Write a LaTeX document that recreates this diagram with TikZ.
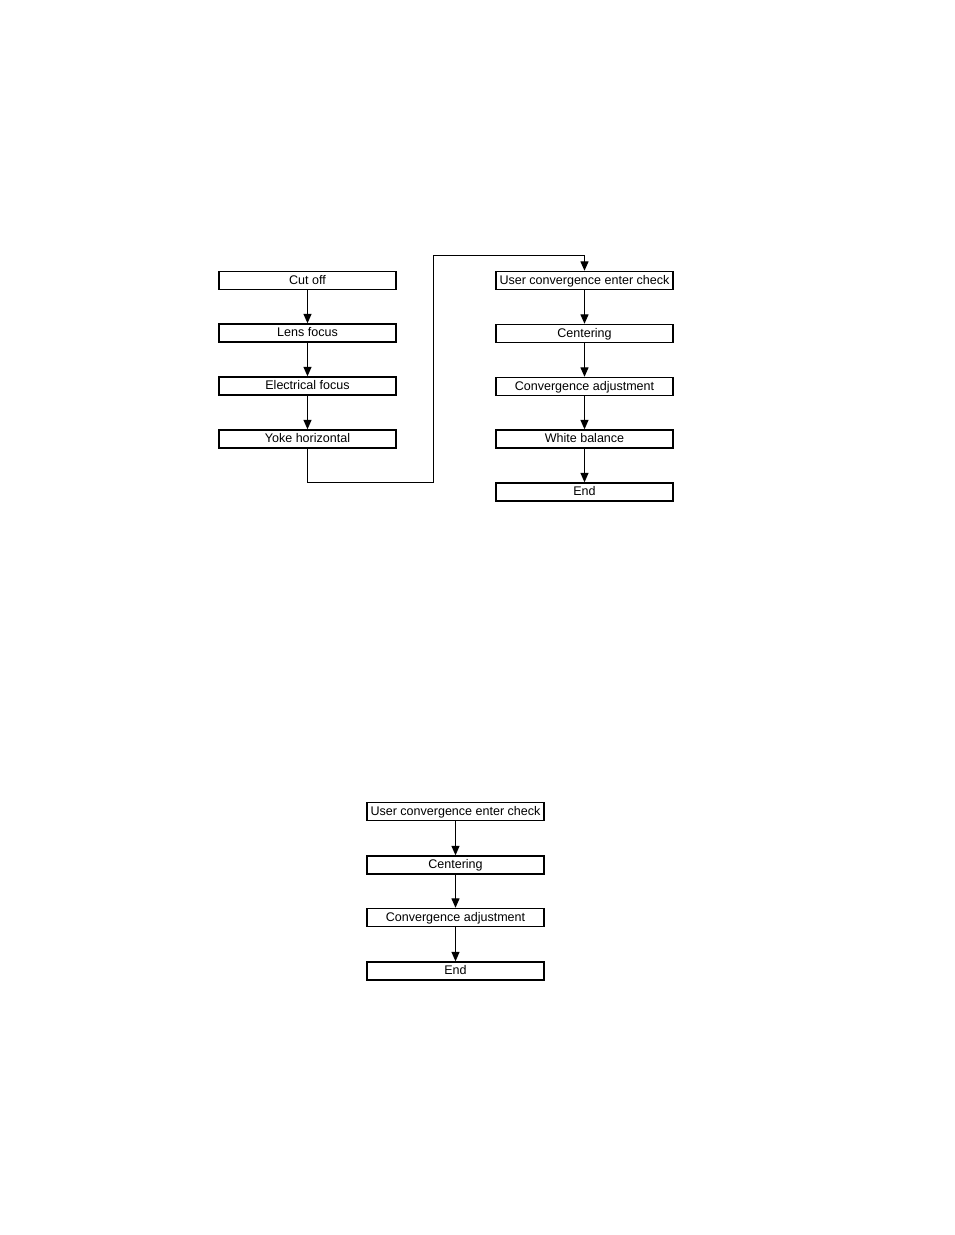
\documentclass[tikz,border=0pt]{standalone}
\usepackage{fontspec}
\setmainfont{Liberation Sans}
\usetikzlibrary{arrows.meta}
\begin{document}
\begin{tikzpicture}[x=0.75pt,y=-0.75pt,
  stepbox/.style={draw=black,line width=1.1pt,minimum width=132.5pt,minimum height=13.5pt,inner sep=0pt,
    font=\fontsize{9.4}{10}\selectfont,text depth=1.5pt,text height=7pt},
  flow/.style={draw=black,line width=0.7pt,-{Triangle[length=7pt,width=6pt]}}]
\useasboundingbox (0,0) rectangle (954,1235);
% left column
\node[stepbox] (cut) at (307.5,280.5) {Cut off};
\node[stepbox] (lens) at (307.5,333) {Lens focus};
\node[stepbox] (elec) at (307.5,386) {Electrical focus};
\node[stepbox] (yoke) at (307.5,439) {Yoke horizontal};
% right column
\node[stepbox] (ucec) at (584.5,280.5) {User convergence enter check};
\node[stepbox] (cent) at (584.5,333.5) {Centering};
\node[stepbox] (conv) at (584.5,386.5) {Convergence adjustment};
\node[stepbox] (white) at (584.5,439) {White balance};
\node[stepbox] (end) at (584.5,492) {End};
% bottom column
\node[stepbox] (bucec) at (455.5,811.5) {User convergence enter check};
\node[stepbox] (bcent) at (455.5,865) {Centering};
\node[stepbox] (bconv) at (455.5,917.5) {Convergence adjustment};
\node[stepbox] (bend) at (455.5,971) {End};
% connectors
\draw[flow] (cut) -- (lens);
\draw[flow] (lens) -- (elec);
\draw[flow] (elec) -- (yoke);
\coordinate (c1) at (433,482);
\coordinate (c2) at (433,255);
\draw[flow] (yoke.south) |- (c1) -- (c2) -| (ucec.north);
\draw[flow] (ucec) -- (cent);
\draw[flow] (cent) -- (conv);
\draw[flow] (conv) -- (white);
\draw[flow] (white) -- (end);
\draw[flow] (bucec) -- (bcent);
\draw[flow] (bcent) -- (bconv);
\draw[flow] (bconv) -- (bend);
\end{tikzpicture}
\end{document}
